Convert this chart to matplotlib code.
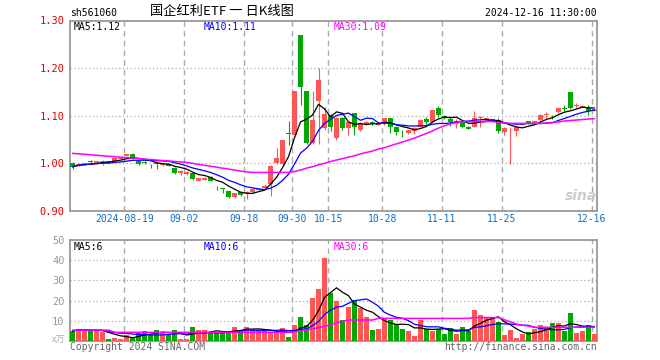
import pandas as pd
import matplotlib.pyplot as plt

# ---- data (sh561060, daily) ----
opens = [1.000, 0.996, 0.997, 1.004, 0.999, 1.002, 1.004, 1.005, 1.010, 1.016,
         1.019, 1.004, 1.003, 0.999, 1.000, 0.996, 0.998, 0.991, 0.979, 0.977,
         0.979, 0.964, 0.966, 0.972, 0.953, 0.948, 0.941, 0.929, 0.939, 0.938,
         0.939, 0.944, 0.948, 0.957, 1.000, 0.999, 1.064, 1.060, 1.269, 1.151,
         1.042, 1.130, 1.074, 1.102, 1.053, 1.096, 1.075, 1.105, 1.070, 1.082,
         1.086, 1.081, 1.082, 1.095, 1.077, 1.066, 1.063, 1.067, 1.077, 1.093,
         1.086, 1.117, 1.100, 1.093, 1.083, 1.088, 1.077, 1.077, 1.096, 1.090,
         1.088, 1.091, 1.065, 1.072, 1.069, 1.081, 1.089, 1.082, 1.091, 1.102,
         1.102, 1.107, 1.116, 1.149, 1.121, 1.119, 1.116, 1.111]
highs = [1.002, 1.000, 1.001, 1.007, 1.005, 1.008, 1.005, 1.013, 1.013, 1.020,
         1.021, 1.005, 1.005, 0.999, 1.000, 1.000, 0.999, 0.993, 0.986, 0.983,
         0.981, 0.970, 0.971, 0.974, 0.953, 0.948, 0.942, 0.938, 0.940, 0.942,
         0.948, 0.949, 0.956, 0.997, 1.032, 1.050, 1.089, 1.151, 1.269, 1.152,
         1.151, 1.200, 1.119, 1.104, 1.097, 1.098, 1.088, 1.106, 1.086, 1.088,
         1.088, 1.086, 1.096, 1.096, 1.078, 1.070, 1.071, 1.076, 1.092, 1.097,
         1.113, 1.121, 1.101, 1.097, 1.093, 1.091, 1.078, 1.109, 1.100, 1.096,
         1.094, 1.095, 1.076, 1.077, 1.077, 1.084, 1.090, 1.090, 1.103, 1.107,
         1.102, 1.118, 1.123, 1.150, 1.126, 1.122, 1.123, 1.115]
lows = [0.989, 0.995, 0.996, 0.999, 0.998, 0.997, 1.001, 1.004, 1.009, 1.015,
        1.010, 0.996, 0.999, 0.991, 0.989, 0.995, 0.994, 0.977, 0.976, 0.976,
        0.965, 0.963, 0.965, 0.962, 0.945, 0.937, 0.927, 0.927, 0.932, 0.926,
        0.938, 0.942, 0.944, 0.931, 0.999, 0.995, 1.039, 1.058, 1.123, 1.040,
        1.040, 1.040, 1.070, 1.067, 1.050, 1.070, 1.060, 1.060, 1.068, 1.080,
        1.080, 1.080, 1.080, 1.063, 1.060, 1.055, 1.062, 1.062, 1.076, 1.081,
        1.085, 1.098, 1.093, 1.079, 1.074, 1.074, 1.072, 1.076, 1.076, 1.089,
        1.087, 1.063, 1.060, 0.998, 1.058, 1.080, 1.083, 1.081, 1.090, 1.093,
        1.093, 1.105, 1.111, 1.115, 1.116, 1.118, 1.102, 1.110]
closes = [0.993, 0.999, 1.000, 1.002, 1.004, 1.004, 1.002, 1.012, 1.012, 1.019,
          1.011, 0.999, 1.001, 0.998, 0.999, 0.999, 0.995, 0.979, 0.985, 0.982,
          0.967, 0.969, 0.970, 0.964, 0.952, 0.947, 0.929, 0.937, 0.933, 0.940,
          0.946, 0.947, 0.953, 0.995, 1.012, 1.049, 1.062, 1.151, 1.161, 1.042,
          1.091, 1.175, 1.103, 1.077, 1.095, 1.075, 1.086, 1.077, 1.084, 1.086,
          1.083, 1.084, 1.095, 1.077, 1.065, 1.065, 1.070, 1.075, 1.091, 1.086,
          1.112, 1.102, 1.095, 1.086, 1.090, 1.077, 1.073, 1.096, 1.098, 1.095,
          1.093, 1.067, 1.074, 1.073, 1.076, 1.083, 1.084, 1.089, 1.102, 1.103,
          1.101, 1.116, 1.115, 1.116, 1.122, 1.121, 1.109, 1.114]
ma30 = [1.021, 1.020, 1.019, 1.018, 1.017, 1.016, 1.015, 1.014, 1.013, 1.012,
        1.011, 1.010, 1.009, 1.008, 1.007, 1.006, 1.005, 1.004, 1.003, 1.002,
        1.000, 0.998, 0.996, 0.994, 0.992, 0.990, 0.988, 0.986, 0.984, 0.982,
        0.981, 0.981, 0.981, 0.981, 0.981, 0.981, 0.981, 0.983, 0.986, 0.990,
        0.993, 0.997, 1.000, 1.004, 1.007, 1.010, 1.013, 1.016, 1.020, 1.023,
        1.026, 1.030, 1.033, 1.037, 1.041, 1.045, 1.049, 1.053, 1.058, 1.063,
        1.068, 1.074, 1.079, 1.083, 1.086, 1.088, 1.088, 1.088, 1.088, 1.088,
        1.088, 1.086, 1.085, 1.084, 1.084, 1.084, 1.084, 1.084, 1.084, 1.085,
        1.086, 1.087, 1.089, 1.090, 1.091, 1.092, 1.093, 1.094]
volume = [5.0, 5.9, 5.9, 5.0, 5.0, 4.3, 1.0, 1.5, 1.0, 3.0,
          1.6, 4.3, 5.0, 3.0, 5.4, 4.3, 3.0, 5.4, 1.0, 1.0,
          6.9, 5.4, 5.4, 3.8, 3.8, 5.0, 5.0, 6.9, 5.4, 6.9,
          5.4, 5.4, 5.4, 3.8, 3.8, 6.3, 2.0, 7.9, 11.9, 7.9,
          21.3, 25.7, 41.1, 23.8, 19.8, 10.4, 17.0, 20.3, 16.5, 12.0,
          5.4, 5.9, 10.7, 10.4, 8.6, 5.9, 5.0, 2.5, 10.4, 5.8,
          5.0, 5.8, 3.5, 6.3, 3.5, 6.9, 5.0, 15.3, 12.9, 11.2,
          11.2, 9.4, 3.0, 5.4, 1.3, 3.5, 4.3, 5.9, 7.9, 6.3,
          8.9, 8.9, 5.0, 13.9, 4.1, 5.0, 7.9, 3.5]
vol_ma30 = [5.4, 5.4, 5.4, 5.4, 5.4, 5.4, 5.4, 4.3, 4.3, 4.3,
            4.3, 4.3, 4.3, 4.3, 4.3, 4.3, 4.3, 4.3, 4.3, 4.3,
            4.3, 4.3, 4.3, 4.3, 4.3, 4.3, 4.3, 4.3, 4.3, 4.3,
            4.3, 4.3, 4.3, 4.3, 4.3, 4.3, 4.3, 4.6, 5.0, 5.5,
            6.0, 6.6, 7.3, 8.0, 9.0, 9.8, 10.4, 10.4, 10.4, 10.4,
            10.4, 11.2, 11.2, 11.2, 11.2, 11.2, 11.2, 11.2, 11.2, 11.2,
            11.2, 11.2, 11.2, 11.2, 11.2, 11.2, 11.2, 11.6, 11.6, 11.6,
            11.6, 11.6, 10.5, 9.5, 8.4, 7.8, 7.4, 6.8, 6.8, 6.8,
            6.8, 6.8, 6.8, 6.8, 6.8, 6.8, 6.8, 6.8]

date_labels = ['2024-08-19', '09-02', '09-18', '09-30', '10-15', '10-28', '11-11', '11-25', '12-16']
date_idx = [9, 19, 29, 37, 43, 52, 62, 72, 87]
price_ticks = [0.90, 1.00, 1.10, 1.20, 1.30]
vol_ticks = [10, 20, 30, 40, 50]

df = pd.DataFrame({'open': opens, 'high': highs, 'low': lows, 'close': closes, 'vol': volume})
df['ma5'] = df['close'].rolling(5, min_periods=1).mean()
df['ma10'] = df['close'].rolling(10, min_periods=1).mean()
df['vma5'] = df['vol'].rolling(5, min_periods=1).mean()
df['vma10'] = df['vol'].rolling(10, min_periods=1).mean()
df['up'] = df['close'] >= df['open']

RED = '#ff5555'
GREEN = '#00a800'
GRID = '#aaaaaa'
FRAME = '#999999'
MONO = 'DejaVu Sans Mono'

W, H = 660, 360
fig = plt.figure(figsize=(6.6, 3.6), dpi=100)
ax = fig.add_axes([70 / W, 1 - 211 / H, 527 / W, 190.5 / H])
axv = fig.add_axes([70 / W, 1 - 341 / H, 527 / W, 101 / H])

x = df.index.values
cols = [RED if u else GREEN for u in df['up']]
xlim = (-0.45, 87.45)

# candles
ax.vlines(x, df['low'], df['high'], colors=cols, linewidth=0.8, zorder=3)
body = (df['close'] - df['open']).abs().clip(lower=0.0012)
ax.bar(x, body, bottom=df[['open', 'close']].min(axis=1), width=0.82, color=cols, linewidth=0, zorder=4)
ax.plot(x, df['ma5'], color='black', lw=0.9, zorder=5)
ax.plot(x, df['ma10'], color='#0000ff', lw=0.9, zorder=5)
ax.plot(x, ma30, color='#ff00ff', lw=1.1, zorder=5)

# volume
axv.bar(x, df['vol'], width=0.85, color=cols, linewidth=0, zorder=3)
axv.plot(x, df['vma5'], color='black', lw=0.9, zorder=5)
axv.plot(x, df['vma10'], color='#0000ff', lw=0.9, zorder=5)
axv.plot(x, vol_ma30, color='#ff00ff', lw=1.1, zorder=5)

gx = [i - 0.4 for i in date_idx]
for a, lo, hi, levels in [(ax, 0.90, 1.30, price_ticks[1:-1]), (axv, 0, 50, vol_ticks[:-1])]:
    a.set_xlim(*xlim)
    a.set_ylim(lo, hi)
    for lv in levels:
        a.axhline(lv, color=GRID, lw=0.9, linestyle=(0, (1, 2)), zorder=1)
    for g in gx:
        a.axvline(g, color=GRID, lw=1.0, linestyle=(0, (4, 3)), zorder=1)
    for s in a.spines.values():
        s.set_color(FRAME)
        s.set_linewidth(1.3)
    a.tick_params(length=0, pad=4)

ax.set_yticks(price_ticks)
ax.set_yticklabels(['%.2f' % t for t in price_ticks], color='#e00000', fontsize=7.5, family=MONO)
ax.set_xticks(gx)
ax.set_xticklabels(date_labels, color='#0a6fc8', fontsize=7, family=MONO)
ax.tick_params(axis='x', pad=2.5)

axv.set_yticks(vol_ticks)
axv.set_yticklabels([str(t) for t in vol_ticks], color='#999999', fontsize=7.5, family=MONO)
axv.set_xticks([])

# texts
def put(px, py, s, **kw):
    fig.text(px / W, 1 - py / H, s, **kw)

put(70, 13, 'sh561060', fontsize=7, family=MONO, va='center')
put(222, 12, '国企红利ETF 一 日K线图', fontsize=9.5, family=['Noto Sans CJK SC', 'DejaVu Sans'], va='center', ha='center')
put(597, 13, '2024-12-16 11:30:00', fontsize=7, family=MONO, va='center', ha='right')
put(74, 27, 'MA5:1.12', fontsize=7, family=MONO, va='center', color='black')
put(204, 27, 'MA10:1.11', fontsize=7, family=MONO, va='center', color='#0000ff')
put(334, 27, 'MA30:1.09', fontsize=7, family=MONO, va='center', color='#ff00ff')
put(74, 247, 'MA5:6', fontsize=7, family=MONO, va='center', color='black')
put(204, 247, 'MA10:6', fontsize=7, family=MONO, va='center', color='#0000ff')
put(334, 247, 'MA30:6', fontsize=7, family=MONO, va='center', color='#ff00ff')
put(65, 340, 'x万', fontsize=6.5, family=['Noto Sans CJK SC', 'DejaVu Sans'], va='center', ha='right', color='#aaaaaa')
put(70, 347, 'Copyright 2024 SINA.COM', fontsize=7, family=MONO, va='center', color='#666666')
put(597, 347, 'http://finance.sina.com.cn', fontsize=7, family=MONO, va='center', ha='right', color='#666666')
put(581, 196, 'sina', fontsize=10, fontweight='bold', style='italic', va='center', ha='center', color='#cccccc')

fig.savefig('out.png', dpi=100)
